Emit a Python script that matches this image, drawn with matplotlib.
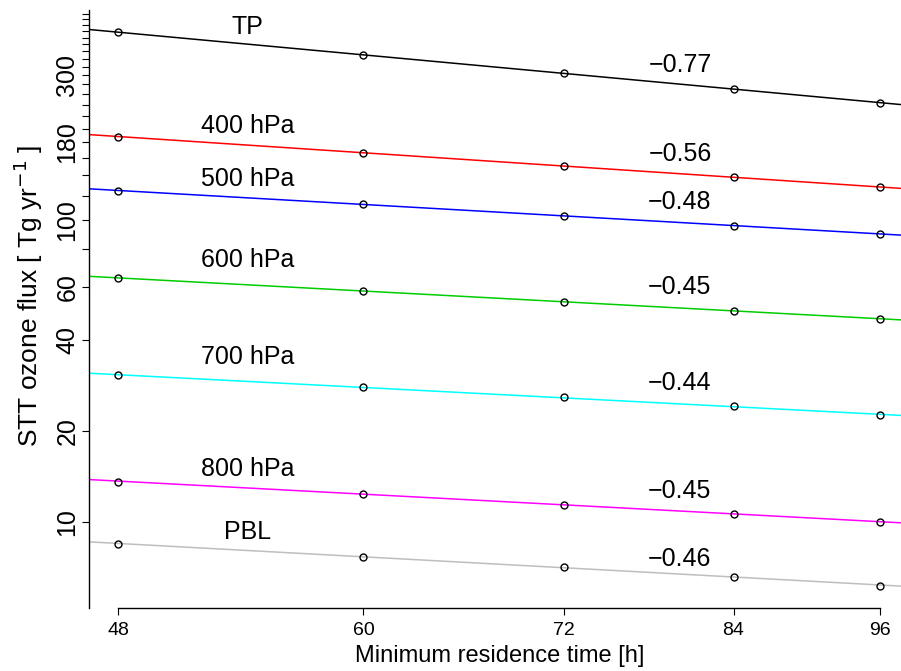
import matplotlib
matplotlib.use('Agg')
import matplotlib.pyplot as plt
from matplotlib.ticker import FixedLocator, FixedFormatter, NullLocator
import numpy as np

plt.rcParams['font.family'] = ['Liberation Sans', 'DejaVu Sans']

# data: minimum residence time [h] vs STT ozone flux [Tg/yr]
res_time = [48, 60, 72, 84, 96]
levels = ['TP', '400 hPa', '500 hPa', '600 hPa', '700 hPa', '800 hPa', 'PBL']
flux_tp  = [417.6, 350.0, 305.0, 270.0, 244.0]
flux_400 = [188.0, 166.6, 150.9, 138.0, 128.0]
flux_500 = [124.7, 112.4, 103.1, 95.5, 89.6]
flux_600 = [64.0, 58.2, 53.6, 49.9, 46.9]
flux_700 = [30.6, 27.9, 25.8, 24.1, 22.6]
flux_800 = [13.6, 12.4, 11.4, 10.65, 9.98]
flux_pbl = [8.46, 7.68, 7.08, 6.58, 6.16]
slopes   = ['\u22120.77', '\u22120.56', '\u22120.48', '\u22120.45', '\u22120.44', '\u22120.45', '\u22120.46']
yticks   = [10, 20, 40, 60, 80] + list(range(100, 481, 20))
ylabels  = {10: '10', 20: '20', 40: '40', 60: '60', 100: '100', 180: '180', 300: '300'}

all_flux = [flux_tp, flux_400, flux_500, flux_600, flux_700, flux_800, flux_pbl]
colors = ['black', 'red', 'blue', '#00CD00', 'cyan', 'magenta', '#BEBEBE']
# text positions (y in data units)
name_y  = [434, 204, 136, 73.5, 35.1, 15.0, 9.27]
slope_y = [325, 165, 114.6, 60, 28.8, 12.7, 7.53]

W, H = 901, 671
fig = plt.figure(figsize=(W/100, H/100), dpi=100)
ax = fig.add_axes([89/W, (H-608)/H, (910.5-89)/W, 598/H])
ax.set_xscale('log')
ax.set_yscale('log')
xlim = (46.75, 98.66)
ax.set_xlim(xlim)
ax.set_ylim(5.19, 493.8)

lx = np.log(res_time)
xx = np.array(xlim)
for i in range(len(levels)):
    ly = np.log(all_flux[i])
    b, a = np.polyfit(lx, ly, 1)
    ax.plot(xx, np.exp(a + b*np.log(xx)), color=colors[i], lw=1.1, zorder=2)
    ax.plot(res_time, all_flux[i], 'o', mfc='none', mec='black', ms=5, mew=1.0, zorder=3)
    ax.text(54, name_y[i], levels[i], ha='center', va='center', fontsize=18)
    ax.text(80, slope_y[i], slopes[i], ha='center', va='center', fontsize=18)

for s in ['top', 'right']:
    ax.spines[s].set_visible(False)
ax.spines['bottom'].set_bounds(48, 96)
ax.spines['left'].set_linewidth(1.0)
ax.spines['bottom'].set_linewidth(1.0)

ax.xaxis.set_major_locator(FixedLocator(res_time))
ax.xaxis.set_major_formatter(FixedFormatter([str(v) for v in res_time]))
ax.xaxis.set_minor_locator(NullLocator())
ax.yaxis.set_major_locator(FixedLocator(yticks))
ax.yaxis.set_major_formatter(FixedFormatter([ylabels.get(v, '') for v in yticks]))
ax.yaxis.set_minor_locator(NullLocator())
ax.tick_params(axis='x', direction='out', length=5, width=0.8, labelsize=14, pad=5)
ax.tick_params(axis='y', direction='out', length=5, width=0.8, labelsize=18, pad=2)
for lab in ax.get_yticklabels():
    lab.set_rotation(90)
    lab.set_va('center')

fig.text(500/W, (H-656)/H, 'Minimum residence time [h]', ha='center', va='center', fontsize=17)
fig.text(28/W, (H-296)/H, 'STT ozone flux [ Tg yr$^{-1}$ ]', ha='center', va='center',
         rotation=90, fontsize=19)

fig.savefig('out.png', dpi=100)
